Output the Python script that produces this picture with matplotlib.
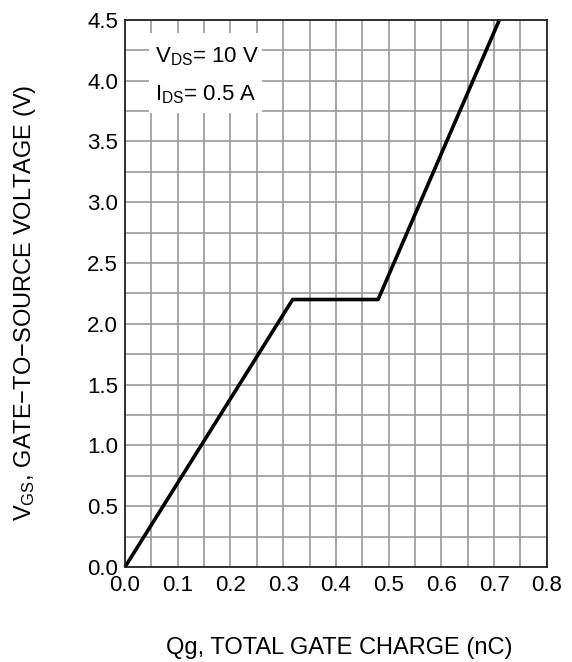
import matplotlib
matplotlib.use('Agg')
import matplotlib.pyplot as plt
from matplotlib.patches import Rectangle
import numpy as np

plt.rcParams['font.family'] = ['Liberation Sans', 'DejaVu Sans']
plt.rcParams['mathtext.fontset'] = 'custom'
plt.rcParams['mathtext.rm'] = 'Liberation Sans'
plt.rcParams['mathtext.it'] = 'Liberation Sans'

# gate charge curve (nC, V)
qg = [0.0, 0.318, 0.48, 0.71]
vgs = [0.0, 2.2, 2.2, 4.5]

x_ticks = [0.0, 0.1, 0.2, 0.3, 0.4, 0.5, 0.6, 0.7, 0.8]
y_ticks = [0.0, 0.5, 1.0, 1.5, 2.0, 2.5, 3.0, 3.5, 4.0, 4.5]

fig = plt.figure(figsize=(5.72, 6.62), dpi=100)
ax = fig.add_axes([0.2185, 0.1435, 0.7375, 0.8265])

ax.set_xlim(0, 0.8)
ax.set_ylim(0, 4.5)
ax.set_xticks(x_ticks)
ax.set_yticks(y_ticks)
ax.set_xticklabels(['%.1f' % v for v in x_ticks])
ax.set_yticklabels(['%.1f' % v for v in y_ticks])
ax.set_xticks(np.arange(0, 0.81, 0.05), minor=True)
ax.set_yticks(np.arange(0, 4.51, 0.25), minor=True)
ax.tick_params(which='both', length=0, labelsize=16)
ax.tick_params(axis='x', pad=6)
ax.tick_params(axis='y', pad=5)
ax.grid(which='both', color='#999999', linewidth=1.2)
ax.set_axisbelow(True)
for s in ax.spines.values():
    s.set_linewidth(1.3)
    s.set_color('#222222')

ax.plot(qg, vgs, color='black', linewidth=2.6, solid_capstyle='butt', clip_on=False)

# white patch behind the test conditions
ax.add_patch(Rectangle((0.045, 3.73), 0.215, 0.66, facecolor='white',
                       edgecolor='none', zorder=1.5))
ax.text(0.057, 4.15, 'V$_{\\rm DS}$= 10 V', fontsize=16, va='baseline', zorder=3)
ax.text(0.057, 3.84, 'I$_{\\rm DS}$= 0.5 A', fontsize=16, va='baseline', zorder=3)

fig.text(0.044, 0.542, 'V$_{\\rm GS}$, GATE\u2212TO\u2212SOURCE VOLTAGE (V)', fontsize=17,
         rotation=90, ha='center', va='center')
fig.text(0.593, 0.021, 'Qg, TOTAL GATE CHARGE (nC)', fontsize=17,
         ha='center', va='center')

fig.savefig('out.png', dpi=100)
